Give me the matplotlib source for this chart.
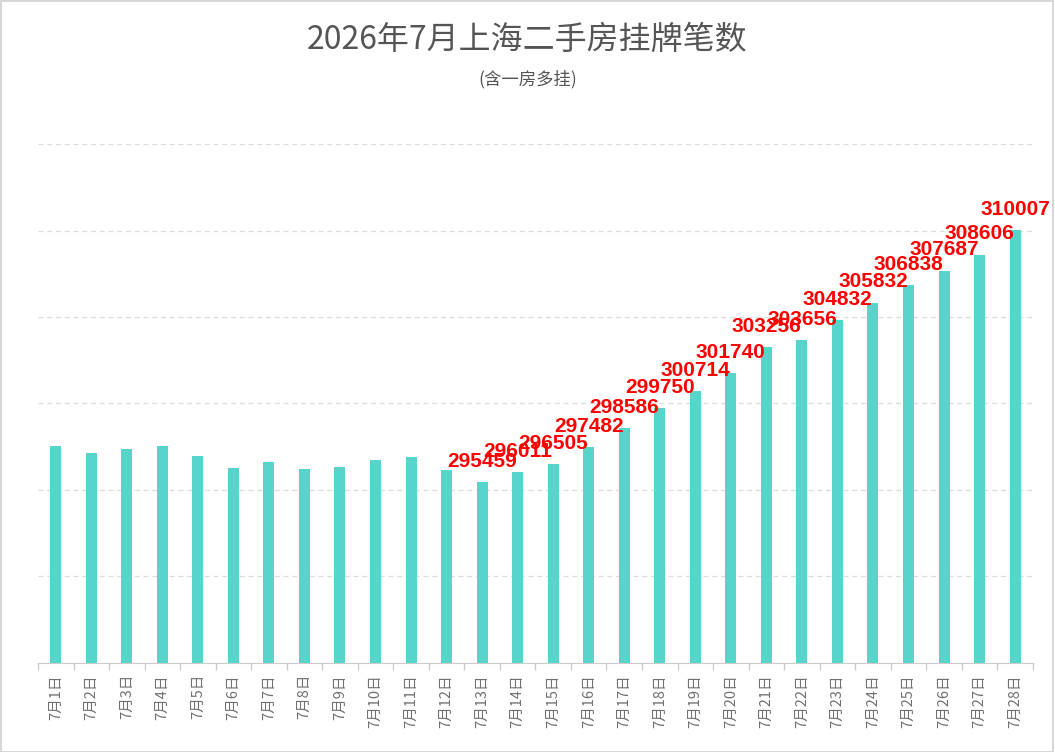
import matplotlib
matplotlib.use("Agg")
import matplotlib.pyplot as plt
from matplotlib.patches import Rectangle

plt.rcParams["font.family"] = ["Noto Sans CJK SC", "DejaVu Sans"]

days = [f"7月{d}日" for d in range(1, 29)]
listings = [297530, 297124, 297355, 297529, 296951, 296258, 296605, 296201,
            296316, 296720, 296894, 296143, 295459, 296011, 296505, 297482,
            298586, 299750, 300714, 301740, 303256, 303656, 304832, 305832,
            306838, 307687, 308606, 310007]
# only the second half of the month carries a value label
labelled_from = 12

BAR = "#57d5ca"
GRID = "#dcdcdc"
TEXT = "#555555"

fig = plt.figure(figsize=(10.55, 7.52), dpi=100)
ax = fig.add_axes([0.036, 0.1184, 0.943, 0.6901])

x = list(range(len(days)))
ax.bar(x, listings, width=0.31, color=BAR, zorder=2)

for i in range(labelled_from, len(days)):
    ax.annotate(str(listings[i]), (x[i], listings[i]), xytext=(0, 11),
                textcoords="offset points", ha="center", va="baseline",
                color="#ff0000", fontsize=15, fontweight="bold",
                family=["Liberation Sans", "DejaVu Sans"], zorder=4)

ax.set_ylim(285000, 315000)
ax.set_xlim(-0.5, len(days) - 0.5)
ax.set_yticks(range(290000, 315001, 5000))
ax.yaxis.grid(True, color=GRID, linestyle=(0, (4, 3)), linewidth=0.9, zorder=0)
ax.tick_params(axis="y", left=False, labelleft=False)

ax.set_xticks(x)
ax.set_xticklabels(days, rotation=90, fontsize=10.5, color="#707070")
ax.set_xticks([i - 0.5 for i in range(len(days) + 1)], minor=True)
ax.tick_params(axis="x", which="major", length=0, pad=8)
ax.tick_params(axis="x", which="minor", length=5, color="#cccccc", width=1)

for s in ("top", "right", "left"):
    ax.spines[s].set_visible(False)
ax.spines["bottom"].set_color("#cccccc")

fig.text(0.5, 0.947, "2026年7月上海二手房挂牌笔数", ha="center", va="center",
         fontsize=23, color=TEXT)
fig.text(0.5, 0.894, "(含一房多挂)", ha="center", va="center",
         fontsize=12.5, color=TEXT)

fig.patches.append(Rectangle((0.0005, 0.0005), 0.998, 0.998, transform=fig.transFigure,
                             fill=False, edgecolor="#d0d0d0", linewidth=1.2))

fig.savefig("out.png", dpi=100)
